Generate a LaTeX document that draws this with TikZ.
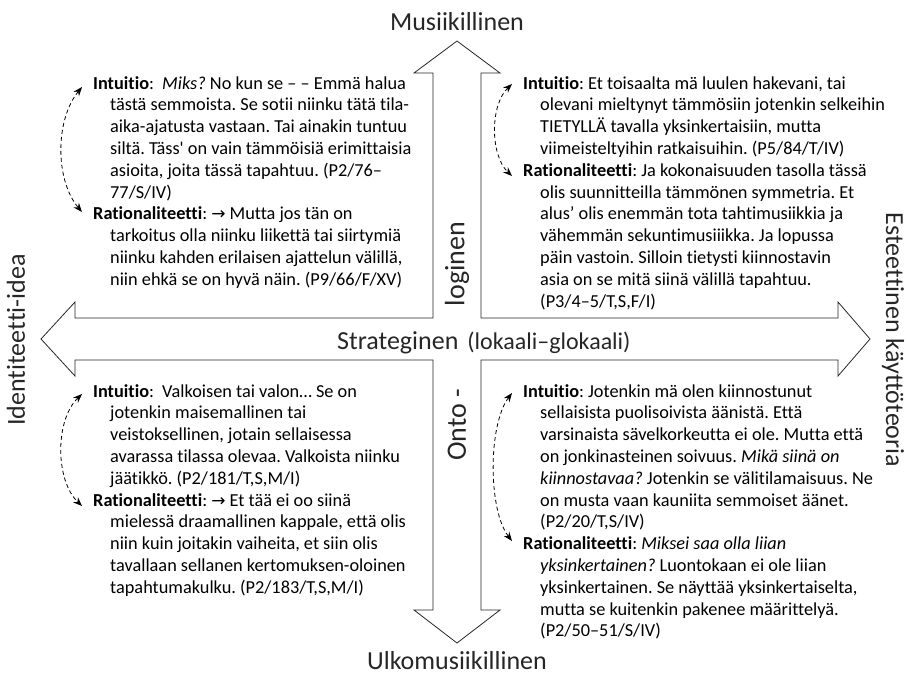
\documentclass[tikz,border=0pt]{standalone}
\usepackage{fontspec}
\setmainfont{Carlito}[Ligatures={NoCommon}]
\newfontfamily\plainf{Carlito}[Ligatures=ResetAll]
\newfontfamily\symfont{DejaVu Sans}
\usetikzlibrary{arrows.meta}
\newcommand{\ra}{{\symfont\fontsize{17}{17}\selectfont →}}
\newcommand{\apo}{{\plainf'}}
\newcommand{\blk}[1]{\begin{minipage}[t]{430pt}\raggedright\frenchspacing\fontsize{18.3}{21.8}\selectfont #1\end{minipage}}
\newcommand{\hp}[1]{\hangindent=17pt\hangafter=1 #1\par}
\begin{document}
\begin{tikzpicture}[x=1pt,y=-1pt,
  outline/.style={draw=black!85, line width=0.8pt, line join=miter},
  lab/.style={inner sep=0pt, text=black!85, font=\fontsize{26}{26}\selectfont},
  labv/.style={inner sep=0pt, text=black!85, font=\fontsize{28}{28}\selectfont},
  txt/.style={inner sep=0pt, anchor=base west},
  dbl/.style={line width=0.8pt, dash pattern=on 4pt off 3pt, {Stealth[length=9pt,width=7pt]}-{Stealth[length=9pt,width=7pt]}}]
\useasboundingbox (0,0) rectangle (907,675);
% cross arrow outline
\draw[outline] (457,41) -- (500,73) -- (481,73) -- (481,318) -- (838,318) -- (838,302) -- (870,339) -- (838,376) -- (838,360) -- (481,360) -- (481,610) -- (500,610) -- (457,643) -- (414,610) -- (433,610) -- (433,360) -- (75,360) -- (75,376) -- (41,339) -- (75,302) -- (75,318) -- (433,318) -- (433,73) -- (414,73) -- cycle;

% axis labels
\node[lab] (mus) at (457,22) {Musiikillinen};
\node[lab] (ulk) at (457,661) {Ulkomusiikillinen};
\node[lab, rotate=90] (iden) at (16,340) {Identiteetti-idea};
\node[lab, rotate=-90] (est) at (893,340) {Esteettinen käyttöteoria};
\node[labv, rotate=90] (log) at (457,264) {loginen};
\node[labv, rotate=90] (onto) at (457,425) {Onto -};
\node[inner sep=0pt, anchor=base west, text=black!85] (strat) at (337,349) {\fontsize{26}{26}\selectfont Strateginen\hspace{9pt}\fontsize{24}{24}\selectfont(lokaali–glokaali)};

% top-left
\node[txt] (tl) at (93,89) {\blk{%
\hp{\textbf{Intuitio}:\ \ \textit{Miks?} No kun se – – Emmä halua\newline tästä semmoista. Se sotii niinku tätä tila-\newline aika-ajatusta vastaan. Tai ainakin tuntuu\newline siltä. Täss\apo{} on vain tämmöisiä erimittaisia\newline asioita, joita tässä tapahtuu. (P2/76–\newline 77/S/IV)}
\hp{\textbf{Rationaliteetti}: \ra\ Mutta jos tän on\newline tarkoitus olla niinku liikettä tai siirtymiä\newline niinku kahden erilaisen ajattelun välillä,\newline niin ehkä se on hyvä näin. (P9/66/F/XV)}}};

% top-right
\node[txt] (tr) at (523,89) {\blk{%
\hp{\textbf{Intuitio}: Et toisaalta mä luulen hakevani, tai\newline olevani mieltynyt tämmösiin jotenkin selkeihin\newline TIETYLLÄ tavalla yksinkertaisiin, mutta\newline viimeisteltyihin ratkaisuihin. (P5/84/T/IV)}
\hp{\textbf{Rationaliteetti}: Ja kokonaisuuden tasolla tässä\newline olis suunnitteilla tämmönen symmetria. Et\newline alus’ olis enemmän tota tahtimusiikkia ja\newline vähemmän sekuntimusiiikka. Ja lopussa\newline päin vastoin. Silloin tietysti kiinnostavin\newline asia on se mitä siinä välillä tapahtuu.\newline (P3/4–5/T,S,F/I)}}};

% bottom-left
\node[txt] (bl) at (93,397) {\blk{%
\hp{\textbf{Intuitio}:\ \ Valkoisen tai valon… Se on\newline jotenkin maisemallinen tai\newline veistoksellinen, jotain sellaisessa\newline avarassa tilassa olevaa. Valkoista niinku\newline jäätikkö. (P2/181/T,S,M/I)}
\hp{\textbf{Rationaliteetti}: \ra\ Et tää ei oo siinä\newline mielessä draamallinen kappale, että olis\newline niin kuin joitakin vaiheita, et siin olis\newline tavallaan sellanen kertomuksen-oloinen\newline tapahtumakulku. (P2/183/T,S,M/I)}}};

% bottom-right
\node[txt] (br) at (523,397) {\blk{%
\hp{\textbf{Intuitio}: Jotenkin mä olen kiinnostunut\newline sellaisista puolisoivista äänistä. Että\newline varsinaista sävelkorkeutta ei ole. Mutta että\newline on jonkinasteinen soivuus. \textit{Mikä siinä on}\newline \textit{kiinnostavaa?} Jotenkin se välitilamaisuus. Ne\newline on musta vaan kauniita semmoiset äänet.\newline (P2/20/T,S/IV)}
\hp{\textbf{Rationaliteetti}: \textit{Miksei saa olla liian}\newline \textit{yksinkertainen?} Luontokaan ei ole liian\newline yksinkertainen. Se näyttää yksinkertaiselta,\newline mutta se kuitenkin pakenee määrittelyä.\newline (P2/50–51/S/IV)}}};

% dashed double arrows
\coordinate (tlI) at (82,87);
\coordinate (tlR) at (82,212);
\draw[dbl] (tlI) .. controls (55,120) and (55,180) .. (tlR);
\coordinate (trI) at (512,84);
\coordinate (trR) at (512,176);
\draw[dbl] (trI) .. controls (490,105) and (490,155) .. (trR);
\coordinate (blI) at (82,394);
\coordinate (blR) at (82,506);
\draw[dbl] (blI) .. controls (55,420) and (55,480) .. (blR);
\coordinate (brI) at (512,393);
\coordinate (brR) at (512,541);
\draw[dbl] (brI) .. controls (488,425) and (488,510) .. (brR);
\end{tikzpicture}
\end{document}
